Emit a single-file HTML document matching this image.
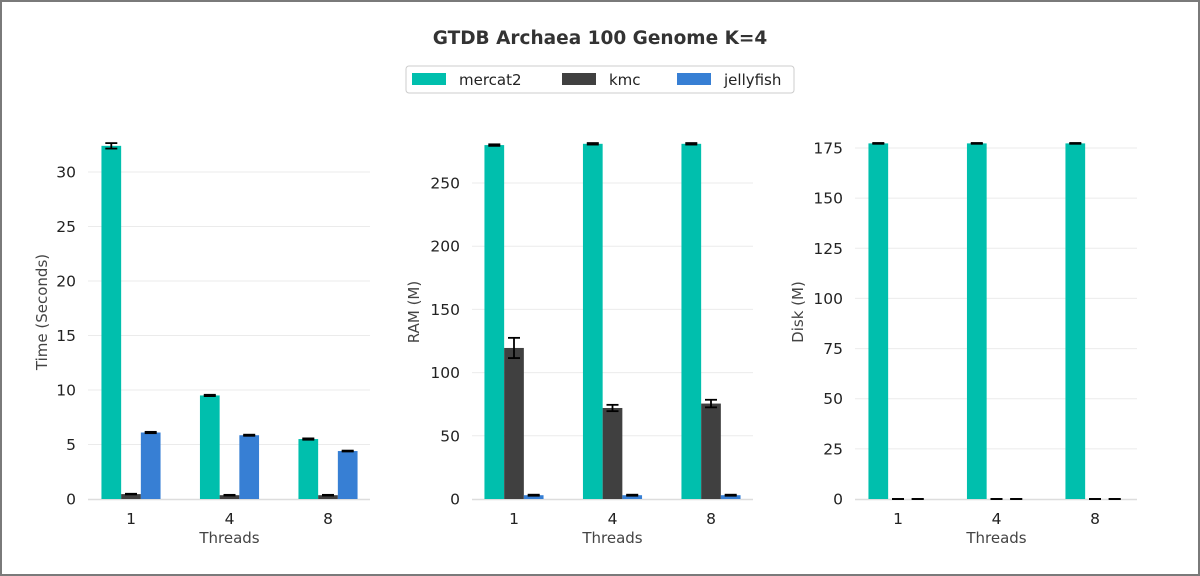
<!DOCTYPE html>
<html><head><meta charset="utf-8"><style>
html,body{margin:0;padding:0;background:#fff}
#wrap{width:1196px;height:572px;border:2px solid #7a7a7a;position:relative;overflow:hidden}
svg text{font-family:"DejaVu Sans","Liberation Sans",sans-serif}
</style></head><body>
<div id="wrap">
<svg id="chart" width="1196" height="572"></svg>
</div>
<script>
const categories=["1","4","8"];
const seriesNames=["mercat2","kmc","jellyfish"];
const timeValues=[[32.4,9.5,5.5],[0.45,0.35,0.35],[6.1,5.85,4.4]];
const timeErr=[[0.25,0.06,0.06],[0.03,0.03,0.03],[0.06,0.05,0.04]];
const ramValues=[[280,281,281],[119.5,72,75.5],[3,3,3]];
const ramErr=[[0.6,0.6,0.6],[8,2.5,3],[0.4,0.4,0.4]];
const diskValues=[[177.3,177.3,177.3],[0,0,0],[0,0,0]];
const diskErr=[[0.2,0.2,0.2],[0,0,0],[0,0,0]];
const timeTicks=[0,5,10,15,20,25,30];
const ramTicks=[0,50,100,150,200,250];
const diskTicks=[0,25,50,75,100,125,150,175];
const colors=["#00bfad","#404040","#377fd4"];
const svg=document.getElementById('chart');const NS="http://www.w3.org/2000/svg";
function mk(t,a,p){const e=document.createElementNS(NS,t);for(const k in a)e.setAttribute(k,a[k]);(p||svg).appendChild(e);return e;}
const O=2;
const title=mk('text',{x:600-O,y:44-O,'text-anchor':'middle','font-size':18.5,'font-weight':'bold',fill:'#333'});
title.textContent="GTDB Archaea 100 Genome K=4";

const lg=mk('g',{});
mk('rect',{x:406-O,y:66-O,width:388,height:27,rx:3,fill:'#fff',stroke:'#ccc'},lg);
const lx=[412,562,677];
seriesNames.forEach((n,i)=>{const g=mk('g',{},lg);
mk('rect',{x:lx[i]-O,y:73-O,width:34,height:12,fill:colors[i]},g);
const t=mk('text',{x:lx[i]+47-O,y:85-O,'font-size':15,fill:'#222'},g);t.textContent=n;});
function panel(name,x0,x1,c0,y0,yTop,tickTop,ticks,vals,errs,ylabel,ylx){
 const g=mk('g',{});
 const ys=v=>y0-(y0-yTop)*v/tickTop;
 const gs=98.5;const bw=19.7;
 ticks.forEach(t=>{const y=ys(t)-O;
  if(t>0)mk('line',{x1:x0-O,x2:x1-O,y1:y,y2:y,stroke:'#ebebeb','stroke-width':1},g);
  const tx=mk('text',{x:x0-12-O,y:y+5.5,'text-anchor':'end','font-size':15.5,fill:'#222'},g);tx.textContent=t;
  });
 mk('line',{x1:x0-O,x2:x1-O,y1:y0-O+0.5,y2:y0-O+0.5,stroke:'#ddd','stroke-width':1.5},g);
 categories.forEach((c,ci)=>{const cx=c0+gs*ci;
  vals.forEach((sv,si)=>{const bx=cx+(si-1.5)*bw;const v=sv[ci];
   const r=mk('rect',{x:bx-O,y:ys(v)-O,width:bw,height:y0-ys(v),fill:colors[si]},g);
   
   const e=errs[si][ci];const mx=bx+bw/2-O;
   mk('line',{x1:mx,x2:mx,y1:ys(v-e)-O,y2:ys(v+e)-O,stroke:'#000','stroke-width':1.8},g);
   [v-e,v+e].forEach(vv=>mk('line',{x1:mx-6,x2:mx+6,y1:ys(vv)-O,y2:ys(vv)-O,stroke:'#000','stroke-width':1.8},g));});
  const tl=mk('text',{x:cx-O,y:524-O,'text-anchor':'middle','font-size':15.5,fill:'#222'},g);tl.textContent=c;
  });
 const xt=mk('text',{x:c0+gs-O,y:543-O,'text-anchor':'middle','font-size':15,fill:'#444'},g);xt.textContent="Threads";
 
 const yt=mk('text',{x:0,y:0,'text-anchor':'middle','font-size':15,fill:'#444',transform:`translate(${ylx-O},${312-O}) rotate(-90)`},g);yt.textContent=ylabel;
 }
panel('time',88,370,131,499,172,30,timeTicks,timeValues,timeErr,'Time (Seconds)',47);
panel('ram',472,753,514,499,183,250,ramTicks,ramValues,ramErr,'RAM (M)',419);
panel('disk',855,1137,898,499,148,175,diskTicks,diskValues,diskErr,'Disk (M)',803);
</script>
</body></html>
